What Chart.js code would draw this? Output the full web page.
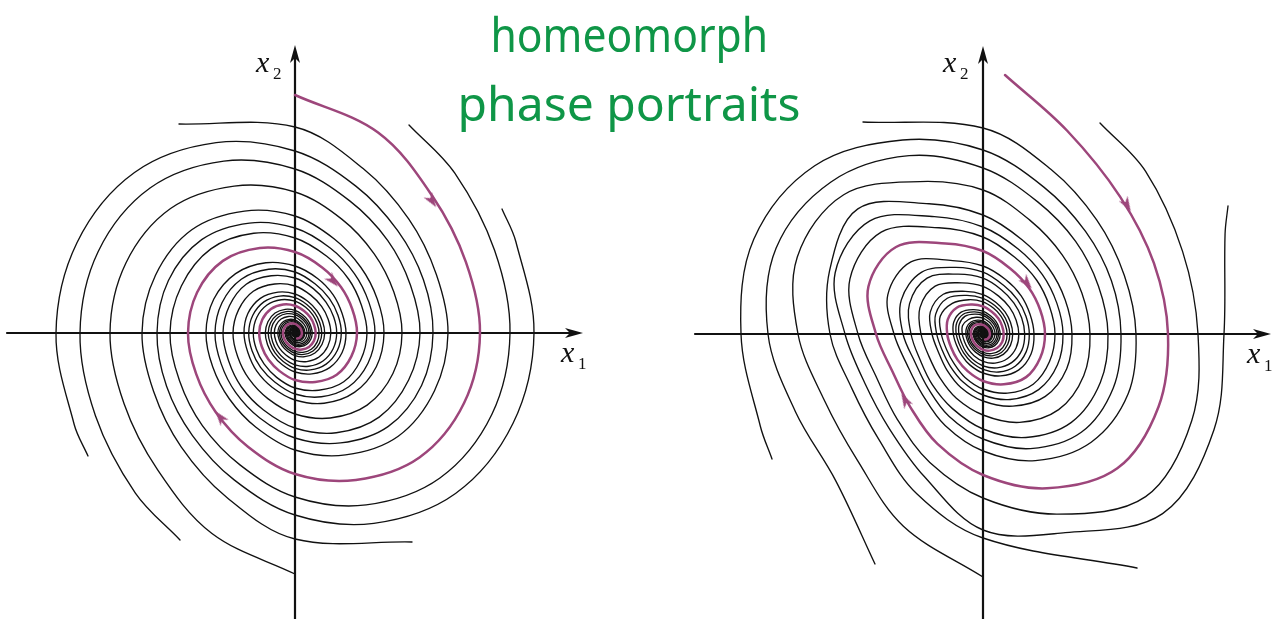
<!DOCTYPE html>
<html lang="en">
<head>
<meta charset="UTF-8">
<title>homeomorph phase portraits</title>
<script src="https://cdn.jsdelivr.net/npm/chart.js"></script>
<style>
  body { margin: 0; background: #fff; width: 1282px; height: 619px; overflow: hidden; position: relative; }
  canvas { position: absolute; top: 0; }
  #left { left: 0; }
  #right { left: 640px; }
  .title { position: absolute; left: 329px; width: 600px; text-align: center; white-space: nowrap;
           font-family: "Noto Sans", sans-serif; font-size: 48px; line-height: 48px; color: #0f9647; }
  .title span { display: inline-block; transform-origin: center; }
  .lab { position: absolute; font-family: "Liberation Serif", serif; font-style: italic; font-size: 30px; line-height: 30px; color: #111; }
  .sub { position: absolute; font-family: "Liberation Serif", serif; font-size: 17px; line-height: 17px; color: #111; }
</style>
</head>
<body>
<canvas id="left" width="620" height="619"></canvas>
<canvas id="right" width="642" height="619"></canvas>

<div class="title" style="top:10px"><span id="t1">homeomorph</span></div>
<div class="title" style="top:79px"><span id="t2">phase portraits</span></div>

<div class="lab" style="left:256px; top:47px">x</div><div class="sub" style="left:273px; top:65px">2</div>
<div class="lab" style="left:561px; top:337px">x</div><div class="sub" style="left:578px; top:355px">1</div>
<div class="lab" style="left:943px; top:47px">x</div><div class="sub" style="left:960px; top:65px">2</div>
<div class="lab" style="left:1247px; top:338px">x</div><div class="sub" style="left:1264px; top:357px">1</div>

<script>
// sixteen rays from the equilibrium, clockwise from straight up, 22.5 degrees apart
const rays = [
  [0, 1], [0.3827, 0.9239], [0.7071, 0.7071], [0.9239, 0.3827],
  [1, 0], [0.9239, -0.3827], [0.7071, -0.7071], [0.3827, -0.9239],
  [0, -1], [-0.3827, -0.9239], [-0.7071, -0.7071], [-0.9239, -0.3827],
  [-1, 0], [-0.9239, 0.3827], [-0.7071, 0.7071], [-0.3827, 0.9239]
];

// left portrait: distance (px) at which each trajectory meets successive rays
const leftP = [238, 217, 194, 185, 185, 183, 176, 159, 141, 123, 112, 107, 107, 106, 102, 92, 81, 71, 65, 62, 62, 61, 59, 53, 47, 41, 37.6, 35.9, 35.8, 35.4, 34, 30.9, 27.3, 23.8, 21.8, 20.7, 20.7, 20.5, 19.7, 17.9, 15.8, 13.7, 12.6, 12.1, 12, 11.8, 11.4, 10.4, 9.1, 7.9, 7.3, 6.9, 6.9, 6.9, 6.6, 6, 5.3, 4.6, 4.2, 4, 4, 3.9, 3.8, 3.5, 3.1];
const leftB = [226, 216, 215, 213, 205, 186, 164, 143, 131, 125, 125, 123, 119, 108, 95, 83, 76, 72, 72, 71, 69, 62, 55, 48, 43.8, 41.9, 41.7, 41.3, 39.6, 36, 31.8, 27.8, 25.4, 24.1, 24.1, 23.9, 23, 20.9, 18.4, 16, 14.7, 14.1, 14, 13.8, 13.3, 12.1, 10.6, 9.2, 8.5, 8, 8, 8, 7.7, 7, 6.2, 5.4, 4.9, 4.7, 4.7, 4.5, 4.4, 4.1, 3.6];
const leftC = [239, 239, 236, 227, 206, 182, 159, 145, 139, 138, 137, 132, 119, 105, 92, 84, 80, 80, 79, 76, 69, 61, 53, 48.7, 46.5, 46.3, 45.8, 44, 40, 35.3, 30.8, 28.2, 26.8, 26.8, 26.5, 25.5, 23.2, 20.4, 17.7, 16.3, 15.7, 15.5, 15.3, 14.8, 13.5, 11.8, 10.2, 9.4, 8.9, 8.9, 8.9, 8.5, 7.8, 6.9, 6, 5.4, 5.2, 5.2, 5, 4.9, 4.5, 4];
const leftA = [206, 178, 161, 153, 153, 151, 146, 132, 117, 102, 93, 89, 89, 88, 84, 76, 67, 59, 54, 51, 51, 51, 49, 44.2, 39, 34.1, 31.2, 29.8, 29.7, 29.3, 28.2, 25.6, 22.6, 19.7, 18.1, 17.2, 17.2, 17, 16.3, 14.8, 13.1, 11.4, 10.4, 10, 9.9, 9.8, 9.5, 8.6, 7.5, 6.5, 6.1, 5.7, 5.7, 5.7, 5.5, 5, 4.4, 3.8, 3.5, 3.3, 3.3];

// right portrait: the same trajectories after the homeomorphism
const rightP = [220, 194, 185, 185, 190, 190, 167, 141, 119, 103, 98, 107, 124, 123, 98, 83, 71, 65, 62, 62, 62, 61, 54.5, 47, 40.2, 36.2, 34.6, 35.8, 38.1, 37.2, 31.8, 27.6, 23.8, 21.8, 20.7, 20.7, 20.8, 19.9, 18, 15.8, 13.6, 12.4, 11.9, 12, 12.2, 11.9, 10.5, 9.1, 7.9, 7.3, 6.9, 6.9, 6.9, 6.6, 6, 5.3, 4.6, 4.2, 4, 4, 3.9, 3.8, 3.5, 3.1];
const rightB = [230, 216, 215, 226, 230, 195, 164, 139, 121, 115, 125, 144, 144, 115, 97, 83, 76, 72, 72, 72, 71, 64, 55, 47, 41.3, 39.6, 41.7, 46.3, 43.4, 37.1, 32.1, 27.8, 25.4, 24.1, 24.1, 24.2, 23.5, 21.3, 18.4, 15.9, 14.5, 13.9, 14, 14.3, 13.9, 12.3, 10.6, 9.2, 8.5, 8, 8, 8, 7.7, 7, 6.2, 5.4, 4.9, 4.7, 4.7, 4.5, 4.4, 4.1, 3.6];
const rightC = [262, 241, 250, 254, 215, 196, 154, 133, 128, 138, 160, 160, 127, 107, 92, 84, 80, 80, 80.6, 78.7, 70.9, 61, 52, 46, 43.9, 46.3, 51.3, 50.5, 41.8, 35.7, 30.8, 28.2, 26.8, 26.8, 26.8, 26.1, 23.6, 20.4, 17.6, 16, 15.4, 15.5, 15.8, 15.4, 13.7, 11.8, 10.2, 9.4, 8.9, 8.9, 8.9, 8.5, 7.8, 6.9, 6, 5.4, 5.2, 5.2, 5, 4.9, 4.5, 4];
const rightA = [206, 178, 161, 153, 153, 157, 153, 137, 117, 99, 85.6, 81.9, 89, 103, 102, 79.4, 68, 59, 54, 51, 51, 52, 50.7, 45.4, 39, 33.7, 30.1, 28.7, 29.7, 31.6, 30.9, 26.4, 22.8, 19.7, 18.1, 17.2, 17.2, 17.1, 16.5, 14.9, 13.1, 11.4, 10.2, 9.8, 9.9, 9.8, 9.5, 8.6, 7.5, 6.5, 6.1, 5.7, 5.7, 5.7, 5.5, 5, 4.4, 3.8, 3.5, 3.3, 3.3];
const rightD = [241, 242, 248, 238, 210, 184, 159, 145, 139, 138, 141, 139, 124, 105, 89, 77.3, 73.6, 80, 88.5, 87.2, 72.1, 61.9, 53, 48.7, 46.5, 46.3, 46.7, 45.5, 41.1, 35.3, 30.4, 27.2, 25.8, 26.8, 28.5, 27.9, 23.9, 20.5, 17.7, 16.3, 15.7, 15.5, 15.4, 14.9, 13.6, 11.8, 10.1, 9.3, 8.9, 8.9, 8.9, 8.5, 7.8, 6.9, 6, 5.4, 5.2, 5.2, 5, 4.9, 4.5, 4];
const rightE = [208, 203, 215, 224, 215, 193, 166, 143, 131, 125, 125, 127, 125, 112, 95, 80.5, 71.7, 68, 72, 79.5, 79.1, 64.8, 55.8, 48, 43.8, 41.9, 41.7, 42.1, 40.5, 36.6, 31.8, 27.4, 24.5, 23.2, 24.1, 25.7, 25.2, 21.5, 18.5, 16, 14.7, 14.1, 14, 13.8, 13.4, 12.1, 10.6, 9.2, 8.5, 8, 8, 8, 7.7, 7, 6.2, 5.4, 4.9, 4.7, 4.7, 4.5, 4.4, 4.1, 3.6];
const rightF = [208, 178, 172, 185, 201, 197, 165, 144, 123, 112, 107, 107, 109, 107, 95.7, 81, 69.6, 61.4, 58.5, 62, 68.3, 67.7, 55.4, 47.7, 41, 37.6, 35.9, 35.8, 35.9, 34.7, 31.5, 27.3, 23.5, 21, 20, 20.7, 22.1, 20.5, 18.1, 15.9, 13.7, 12.6, 12.1, 12, 11.8, 11.5, 10.4, 9.1, 7.9, 7.3, 6.9, 6.9, 6.9, 6.6, 6, 5.3, 4.6, 4.2, 4, 4, 3.9, 3.8, 3.5, 3.1];
const rightG = [204, 173, 148, 142, 153, 166, 177, 141, 119, 102, 93, 89, 89, 90.6, 88.2, 78.1, 67, 57.8, 51, 48.1, 51, 57.1, 56.2, 46.2, 39.4, 34.1, 31.2, 29.8, 29.7, 29.7, 28.8, 26.1, 22.6, 19.6, 17.8, 16.9, 17.2, 17.6, 17, 15, 13.1, 11.4, 10.4, 10, 9.9, 9.8, 9.5, 8.6, 7.5, 6.5, 6.1, 5.7, 5.7, 5.7, 5.5, 5, 4.4, 3.8, 3.5, 3.3, 3.3];

// starting points of the trajectories (px from the equilibrium, y up)
const leftStarts = { B: [114, 208], C: [207, 124], A: [-116, 209], D: [-207, -123], E: [-115, -207], F: [0, -241], G: [117, -209] };
const rightStarts = { P: [22, 259], B: [117, 211], C: [245, 128], A: [-120, 212], D: [-211, -125], E: [-108, -230], F: [0, -243], G: [154, -234] };

// direction arrows on the highlighted trajectory: position and heading (deg)
const leftArrows = [[137, 132], [38, 52], [-75, -84]];
const leftHeadings = [146, 138, 322];
const rightArrows = [[144, 129], [44, 51], [-78, -66]];
const rightHeadings = [150, 141, 331];

const axisReach = 288;

const PURPLE = '#9d467b';
const INK = '#111111';

function head(color, w, h) {
  const c = document.createElement('canvas');
  c.width = w; c.height = h;
  const g = c.getContext('2d');
  g.fillStyle = color;
  g.beginPath();
  g.moveTo(w / 2, 0);
  g.lineTo(w, h);
  g.lineTo(w / 2, h * 0.72);
  g.lineTo(0, h);
  g.closePath();
  g.fill();
  return c;
}
const purpleHead = head(PURPLE, 10, 15);
const axisHead = head(INK, 10, 18);

function trace(s) {
  const pts = [];
  if (s.from) pts.push({ x: s.from[0], y: s.from[1] });
  s.r.forEach((d, i) => {
    const dir = rays[(s.ray + i) % 16];
    pts.push({ x: dir[0] * d, y: dir[1] * d });
  });
  return pts;
}

function portrait(id, xr, yr, purple, strands, arrows, headings) {
  const datasets = [];
  datasets.push({
    data: arrows.map(p => ({ x: p[0], y: p[1] })),
    pointStyle: purpleHead, pointRotation: headings, pointRadius: 5, showLine: false
  });
  datasets.push({
    data: [{ x: 0, y: axisReach - 9 }, { x: axisReach - 9, y: 0 }],
    pointStyle: axisHead, pointRotation: [0, 90], pointRadius: 5, showLine: false
  });
  datasets.push({ data: trace(purple), showLine: true, borderColor: PURPLE, borderWidth: 2.5, pointRadius: 0 });
  datasets.push({ data: [{ x: -axisReach, y: 0 }, { x: axisReach - 6, y: 0 }], showLine: true, borderColor: INK, borderWidth: 2.2, pointRadius: 0, tension: 0 });
  datasets.push({ data: [{ x: 0, y: -300 }, { x: 0, y: axisReach - 6 }], showLine: true, borderColor: INK, borderWidth: 2.2, pointRadius: 0, tension: 0 });
  strands.forEach(s => {
    datasets.push({ data: trace(s), showLine: true, borderColor: INK, borderWidth: 1.35, pointRadius: 0 });
  });
  datasets.push({ data: [{ x: 0, y: 0 }], pointRadius: 4, pointBackgroundColor: INK, pointBorderWidth: 0, showLine: false });

  return new Chart(document.getElementById(id), {
    type: 'scatter',
    data: { datasets },
    options: {
      responsive: false,
      animation: false,
      events: [],
      layout: { padding: 0, autoPadding: false },
      plugins: { legend: { display: false }, tooltip: { enabled: false } },
      elements: { line: { tension: 0.35, borderCapStyle: 'round', borderJoinStyle: 'round' } },
      scales: {
        x: { type: 'linear', min: xr[0], max: xr[1], display: false },
        y: { type: 'linear', min: yr[0], max: yr[1], display: false }
      }
    }
  });
}

portrait('left', [-295, 325], [-286, 333],
  { from: null, ray: 0, r: leftP.slice(0, 56) },
  [
    { from: leftStarts.B, ray: 2, r: leftB },
    { from: leftStarts.C, ray: 3, r: leftC },
    { from: leftStarts.A, ray: 0, r: leftA },
    { from: leftStarts.D, ray: 11, r: leftC },
    { from: leftStarts.E, ray: 10, r: leftB },
    { from: leftStarts.F, ray: 9, r: leftP.slice(1) },
    { from: leftStarts.G, ray: 8, r: leftA }
  ],
  leftArrows, leftHeadings);

portrait('right', [-343, 299], [-285, 334],
  { from: rightStarts.P, ray: 1, r: rightP.slice(0, 55) },
  [
    { from: rightStarts.B, ray: 2, r: rightB },
    { from: rightStarts.C, ray: 3, r: rightC },
    { from: rightStarts.A, ray: 0, r: rightA },
    { from: rightStarts.D, ray: 11, r: rightD },
    { from: rightStarts.E, ray: 10, r: rightE },
    { from: rightStarts.F, ray: 9, r: rightF },
    { from: rightStarts.G, ray: 8, r: rightG }
  ],
  rightArrows, rightHeadings);

// squeeze the title lines to their set widths
[['t1', 278], ['t2', 343]].forEach(([id, w]) => {
  const el = document.getElementById(id);
  el.style.transform = 'scaleX(' + (w / el.offsetWidth) + ')';
});
</script>
</body>
</html>
